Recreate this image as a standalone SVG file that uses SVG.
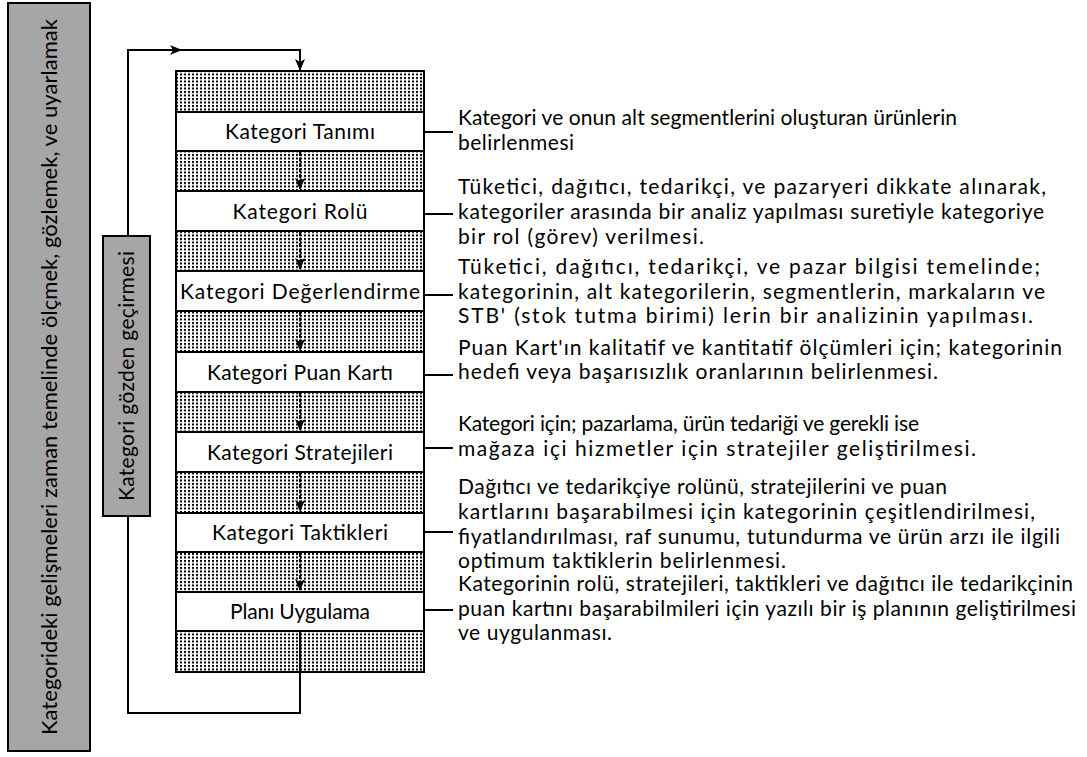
<svg xmlns="http://www.w3.org/2000/svg" width="1087" height="757" viewBox="0 0 1087 757">
<style>
text{font-family:Lato,"Liberation Sans",sans-serif;fill:#000}
.lbl{font-size:21px;text-anchor:middle}
.desc{font-size:21px}
.side{font-size:22px;text-anchor:middle}
.side2{font-size:21px;text-anchor:middle}
.gray{fill:#a6a6a6;stroke:#000;stroke-width:2}
.pat{fill:url(#dots);stroke:#000;stroke-width:2}
.box{fill:#fff;stroke:#000;stroke-width:2}
.ln{fill:none;stroke:#000;stroke-width:2}
.dash{fill:none;stroke:#000;stroke-width:2;stroke-dasharray:4 1.5}
</style>
<defs>
<pattern id="dots" width="4" height="3.5" patternUnits="userSpaceOnUse">
<rect width="4" height="3.5" fill="#fff"/>
<rect x="0" y="0" width="2" height="2" fill="#000"/>
</pattern>
<marker id="ah" markerWidth="12" markerHeight="10" refX="12" refY="5" orient="auto" markerUnits="userSpaceOnUse">
<path d="M0,0 L12,5 L0,10 L3,5 z" fill="#000"/>
</marker>
</defs>

<g id="outer">
<rect class="gray" x="8" y="3" width="82" height="748"/>
<text class="side" transform="translate(57,377) rotate(-90)" textLength="716" lengthAdjust="spacing">Kategorideki gelişmeleri zaman temelinde ölçmek, gözlemek, ve uyarlamak</text>
</g>

<g id="connectors">
<path class="ln" d="M300,631 V713 H128 V50 H182" marker-end="url(#ah)"/>
<path class="ln" d="M180,50 H300 V71" marker-end="url(#ah)"/>
</g>

<g id="review">
<rect class="gray" x="103" y="236" width="47" height="280"/>
<text class="side2" transform="translate(134,376) rotate(-90)" textLength="250" lengthAdjust="spacing">Kategori gözden geçirmesi</text>
</g>

<g id="column">
<rect class="pat" x="176" y="71" width="248" height="41"/>
<rect class="pat" x="176" y="151" width="248" height="40"/>
<rect class="pat" x="176" y="231" width="248" height="40"/>
<rect class="pat" x="176" y="311" width="248" height="41"/>
<rect class="pat" x="176" y="392" width="248" height="40"/>
<rect class="pat" x="176" y="472" width="248" height="41"/>
<rect class="pat" x="176" y="552" width="248" height="40"/>
<rect class="pat" x="176" y="631" width="248" height="41"/>
</g>

<g id="flow">
<path class="dash" d="M300,152 V190" marker-end="url(#ah)"/>
<path class="dash" d="M300,232 V270" marker-end="url(#ah)"/>
<path class="dash" d="M300,312 V351" marker-end="url(#ah)"/>
<path class="dash" d="M300,393 V431" marker-end="url(#ah)"/>
<path class="dash" d="M300,473 V512" marker-end="url(#ah)"/>
<path class="dash" d="M300,553 V591" marker-end="url(#ah)"/>
<path class="ln" d="M300,632 V672"/>
</g>

<g id="leaders">
<path class="ln" d="M425,132 H453 M425,214 H453 M425,295 H453 M425,375 H453 M425,448 H453 M425,532 H453 M425,610 H453"/>
</g>

<g id="n1">
<rect class="box" x="176" y="112" width="248" height="39"/>
<text class="lbl" x="300" y="139" textLength="150" lengthAdjust="spacing">Kategori Tanımı</text>
<text class="desc" x="458" y="125" textLength="499" lengthAdjust="spacing">Kategori ve onun alt segmentlerini oluşturan ürünlerin</text>
<text class="desc" x="458" y="150" textLength="116" lengthAdjust="spacing">belirlenmesi</text>
</g>
<g id="n2">
<rect class="box" x="176" y="191" width="248" height="40"/>
<text class="lbl" x="300" y="219" textLength="135" lengthAdjust="spacing">Kategori Rolü</text>
<text class="desc" x="458" y="194" textLength="588" lengthAdjust="spacing">Tüketici, dağıtıcı, tedarikçi, ve pazaryeri dikkate alınarak,</text>
<text class="desc" x="458" y="219" textLength="586" lengthAdjust="spacing">kategoriler arasında bir analiz yapılması suretiyle kategoriye</text>
<text class="desc" x="458" y="244" textLength="246" lengthAdjust="spacing">bir rol (görev) verilmesi.</text>
</g>
<g id="n3">
<rect class="box" x="176" y="271" width="248" height="40"/>
<text class="lbl" x="300" y="299" textLength="240" lengthAdjust="spacing">Kategori Değerlendirme</text>
<text class="desc" x="458" y="274" textLength="582" lengthAdjust="spacing">Tüketici, dağıtıcı, tedarikçi, ve pazar bilgisi temelinde;</text>
<text class="desc" x="458" y="299" textLength="587" lengthAdjust="spacing">kategorinin, alt kategorilerin, segmentlerin, markaların ve</text>
<text class="desc" x="458" y="323" textLength="575" lengthAdjust="spacing">STB' (stok tutma birimi) lerin bir analizinin yapılması.</text>
</g>
<g id="n4">
<rect class="box" x="176" y="352" width="248" height="40"/>
<text class="lbl" x="300" y="380" textLength="186" lengthAdjust="spacing">Kategori Puan Kartı</text>
<text class="desc" x="458" y="355" textLength="604" lengthAdjust="spacing">Puan Kart'ın kalitatif ve kantitatif ölçümleri için; kategorinin</text>
<text class="desc" x="458" y="379" textLength="480" lengthAdjust="spacing">hedefi veya başarısızlık oranlarının belirlenmesi.</text>
</g>
<g id="n5">
<rect class="box" x="176" y="432" width="248" height="40"/>
<text class="lbl" x="300" y="460" textLength="186" lengthAdjust="spacing">Kategori Stratejileri</text>
<text class="desc" x="458" y="431" textLength="461" lengthAdjust="spacing">Kategori için; pazarlama, ürün tedariği ve gerekli ise</text>
<text class="desc" x="458" y="456" textLength="518" lengthAdjust="spacing">mağaza içi hizmetler için stratejiler geliştirilmesi.</text>
</g>
<g id="n6">
<rect class="box" x="176" y="513" width="248" height="39"/>
<text class="lbl" x="300" y="540" textLength="176" lengthAdjust="spacing">Kategori Taktikleri</text>
<text class="desc" x="458" y="494" textLength="489" lengthAdjust="spacing">Dağıtıcı ve tedarikçiye rolünü, stratejilerini ve puan</text>
<text class="desc" x="458" y="519" textLength="577" lengthAdjust="spacing">kartlarını başarabilmesi için kategorinin çeşitlendirilmesi,</text>
<text class="desc" x="458" y="544" textLength="602" lengthAdjust="spacing">fiyatlandırılması, raf sunumu, tutundurma ve ürün arzı ile ilgili</text>
<text class="desc" x="458" y="568" textLength="328" lengthAdjust="spacing">optimum taktiklerin belirlenmesi.</text>
</g>
<g id="n7">
<rect class="box" x="176" y="592" width="248" height="39"/>
<text class="lbl" x="300" y="619" textLength="140" lengthAdjust="spacing">Planı Uygulama</text>
<text class="desc" x="458" y="591" textLength="615" lengthAdjust="spacing">Kategorinin rolü, stratejileri, taktikleri ve dağıtıcı ile tedarikçinin</text>
<text class="desc" x="458" y="616" textLength="618" lengthAdjust="spacing">puan kartını başarabilmileri için yazılı bir iş planının geliştirilmesi</text>
<text class="desc" x="458" y="640" textLength="154" lengthAdjust="spacing">ve uygulanması.</text>
</g>
</svg>
